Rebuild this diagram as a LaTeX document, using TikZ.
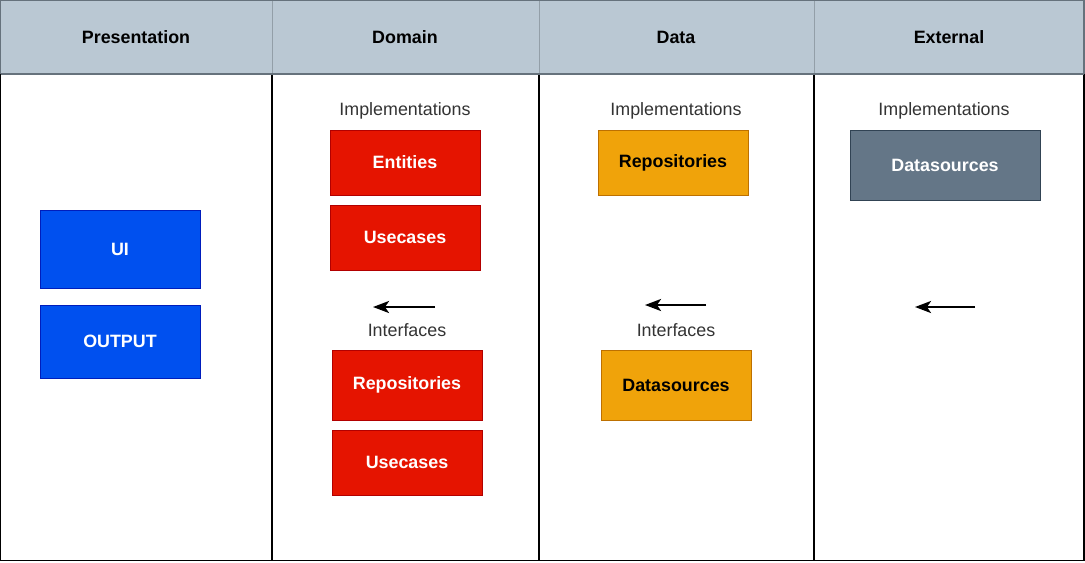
\documentclass[tikz,border=0pt]{standalone}
\usepackage{fontspec}
\setmainfont{Liberation Sans}
\usetikzlibrary{arrows.meta}
\definecolor{hdrfill}{HTML}{BAC8D3}
\definecolor{hdrline}{HTML}{66727C}
\definecolor{hdrsep}{HTML}{939FA8}
\definecolor{bluefill}{HTML}{0050EF}
\definecolor{blueline}{HTML}{001DBC}
\definecolor{redfill}{HTML}{E51400}
\definecolor{redline}{HTML}{B20000}
\definecolor{orgfill}{HTML}{F0A30A}
\definecolor{orgline}{HTML}{BD7000}
\definecolor{grayfill}{HTML}{647687}
\definecolor{grayline}{HTML}{314354}
\definecolor{lbltext}{HTML}{333333}
\tikzset{
  px/.style={x=0.75pt,y=-0.75pt},
  boxbase/.style={rectangle, draw, line width=0.75pt, inner sep=0pt, font=\fontsize{13.4}{16}\selectfont\bfseries},
  bluebox/.style={boxbase, fill=bluefill, draw=blueline, text=white},
  redbox/.style={boxbase, fill=redfill, draw=redline, text=white},
  orgbox/.style={boxbase, fill=orgfill, draw=orgline, text=black},
  graybox/.style={boxbase, fill=grayfill, draw=grayline, text=white},
  hdrtext/.style={font=\fontsize{13.4}{16}\selectfont\bfseries, text=black},
  lbl/.style={font=\fontsize{13.4}{16}\selectfont, text=lbltext},
  arr/.style={-{Stealth[length=12pt,width=9pt,inset=3pt]}, line width=1.8pt, black}
}
\begin{document}
\begin{tikzpicture}[px]
\useasboundingbox (0,0) rectangle (1085,562);
% header band
\fill[hdrfill] (0.5,0.5) rectangle (1084,74);
\draw[hdrsep, line width=0.75pt] (272,0.5) -- (272,74) (539,0.5) -- (539,74) (814,0.5) -- (814,74);
\draw[black, line width=1pt] (272,74) -- (272,560.5) (539,74) -- (539,560.5) (814,74) -- (814,560.5);
\draw[black, line width=1pt] (0.5,74) -- (0.5,560.5) -- (1084,560.5) -- (1084,74);
\draw[hdrline, line width=1pt] (0.5,74) -- (0.5,0.5) -- (1084,0.5) -- (1084,74);
\draw[hdrline, line width=1pt] (0.5,74) -- (1084,74);
% headers
\node[hdrtext] (hP) at (136,37.5) {Presentation};
\node[hdrtext] (hD) at (405,37.5) {Domain};
\node[hdrtext] (hA) at (676,37.5) {Data};
\node[hdrtext] (hE) at (949,37.5) {External};
% presentation
\node[bluebox, minimum width=120pt, minimum height=58.5pt] (ui) at (120,249) {UI};
\node[bluebox, minimum width=120pt, minimum height=54.75pt] (out) at (120,341.5) {OUTPUT};
% domain
\node[lbl] (dimpl) at (405,110.5) {Implementations};
\node[redbox, minimum width=112.5pt, minimum height=48.75pt] (ent) at (405,162.5) {Entities};
\node[redbox, minimum width=112.5pt, minimum height=48.75pt] (duc1) at (405,237.5) {Usecases};
\node[lbl] (dintf) at (407,330) {Interfaces};
\node[redbox, minimum width=112.5pt, minimum height=52.5pt] (drep) at (407,385) {Repositories};
\node[redbox, minimum width=112.5pt, minimum height=48.75pt] (duc2) at (407,462.5) {Usecases};
% data
\node[lbl] (aimpl) at (676,110.5) {Implementations};
\node[orgbox, minimum width=112.5pt, minimum height=48.75pt] (arep) at (673,162.5) {Repositories};
\node[lbl] (aintf) at (676,330) {Interfaces};
\node[orgbox, minimum width=112.5pt, minimum height=52.5pt] (ads) at (676,385) {Datasources};
% external
\node[lbl] (eimpl) at (944,110.5) {Implementations};
\node[graybox, minimum width=142.5pt, minimum height=52.5pt] (eds) at (945,165) {Datasources};
% arrows
\coordinate (d1) at (435,307); \coordinate (d2) at (373,307);
\coordinate (a1) at (706,305); \coordinate (a2) at (645,305);
\coordinate (e1) at (975,307); \coordinate (e2) at (915,307);
\draw[arr] (d1) -- (d2);
\draw[arr] (a1) -- (a2);
\draw[arr] (e1) -- (e2);
\end{tikzpicture}
\end{document}
